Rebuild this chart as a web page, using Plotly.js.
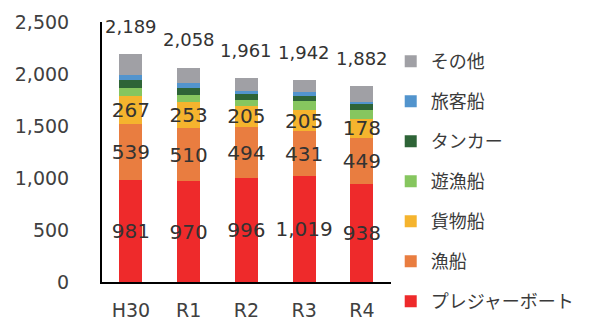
<!DOCTYPE html>
<html>
<head>
<meta charset="utf-8">
<script src="https://cdn.plot.ly/plotly-3.0.1.min.js"></script>
<style>
html,body{margin:0;padding:0;background:#fff;}
#chart{width:592px;height:326px;}
</style>
</head>
<body>
<div id="chart"></div>
<script>
// Data
const categories = ['H30', 'R1', 'R2', 'R3', 'R4'];
const seriesNames = ['プレジャーボート', '漁船', '貨物船', '遊漁船', 'タンカー', '旅客船', 'その他'];
const pleasureBoat = [981, 970, 996, 1019, 938];
const fishingBoat  = [539, 510, 494, 431, 449];
const cargoShip    = [267, 253, 205, 205, 178];
const recFishing   = [82, 65, 57, 83, 93];
const tanker       = [70, 64, 55, 55, 58];
const passenger    = [55, 49, 33, 33, 18];
const other        = [195, 147, 121, 116, 148];
const totals       = [2189, 2058, 1961, 1942, 1882];
const yTicks       = [0, 500, 1000, 1500, 2000, 2500];

const seriesValues = [pleasureBoat, fishingBoat, cargoShip, recFishing, tanker, passenger, other];
const seriesColors = ['#EE2A2B', '#E97D40', '#F5B42E', '#86C65F', '#2E6437', '#5294CD', '#A0A0A5'];
const labelled = [true, true, true, false, false, false, false];

const labelFont = {family: 'DejaVu Sans', size: 20, color: '#333333'};

const traces = seriesValues.map((vals, i) => ({
  type: 'bar',
  name: seriesNames[i],
  x: categories,
  y: vals,
  legendgroup: 'g' + i,
  legendrank: 100 - i,
  marker: {color: seriesColors[i], line: {width: 0}},
  text: labelled[i] ? vals.map(v => v.toLocaleString('en-US')) : undefined,
  texttemplate: labelled[i] ? '%{text}' : undefined,
  textposition: labelled[i] ? 'inside' : 'none',
  insidetextanchor: 'middle',
  textangle: 0,
  constraintext: 'none',
  insidetextfont: labelFont,
  hoverinfo: 'skip'
}));

const annotations = categories.map((c, i) => ({
  x: c,
  y: totals[i],
  xref: 'x',
  yref: 'y',
  text: totals[i].toLocaleString('en-US'),
  showarrow: false,
  yshift: 28,
  font: {family: 'DejaVu Sans', size: 18, color: '#333333'}
}));

const layout = {
  width: 592,
  height: 326,
  margin: {l: 102, r: 200, t: 21.5, b: 43.7},
  paper_bgcolor: '#ffffff',
  plot_bgcolor: '#ffffff',
  barmode: 'stack',
  bargap: 0.603,
  showlegend: true,
  legend: {
    traceorder: 'grouped',
    tracegroupgap: 13.6,
    xref: 'container',
    yref: 'container',
    x: 0.660,
    y: 0.868,
    xanchor: 'left',
    yanchor: 'top',
    maxheight: 400,
    font: {family: 'Noto Sans CJK JP', size: 18, color: '#3a3a3a'},
    bgcolor: 'rgba(0,0,0,0)'
  },
  xaxis: {
    type: 'category',
    showline: true,
    linecolor: '#000000',
    linewidth: 2,
    showgrid: false,
    zeroline: false,
    ticks: 'outside',
    ticklen: 10,
    tickcolor: 'rgba(0,0,0,0)',
    tickfont: {family: 'DejaVu Sans', size: 19, color: '#404040'}
  },
  yaxis: {
    range: [0, 2500],
    tickvals: yTicks,
    tickformat: ',',
    showline: true,
    linecolor: '#000000',
    linewidth: 2,
    showgrid: false,
    zeroline: false,
    ticks: 'outside',
    ticklen: 27,
    tickcolor: 'rgba(0,0,0,0)',
    tickfont: {family: 'DejaVu Sans', size: 19, color: '#404040'}
  },
  annotations: annotations,
  font: {family: 'DejaVu Sans', color: '#404040'}
};

Plotly.newPlot('chart', traces, layout, {displayModeBar: false, staticPlot: true});
</script>
</body>
</html>
